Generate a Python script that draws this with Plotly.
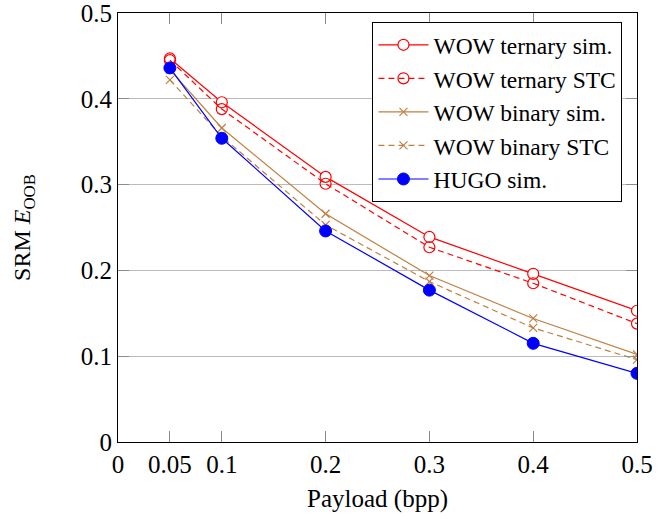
import plotly.graph_objects as go

payload = [0.05, 0.1, 0.2, 0.3, 0.4, 0.5]
wow_ternary_sim = [0.447, 0.396, 0.309, 0.239, 0.196, 0.153]
wow_ternary_stc = [0.445, 0.388, 0.301, 0.227, 0.185, 0.138]
wow_binary_sim = [0.434, 0.366, 0.266, 0.194, 0.144, 0.102]
wow_binary_stc = [0.422, 0.356, 0.253, 0.187, 0.133, 0.096]
hugo_sim = [0.436, 0.354, 0.246, 0.177, 0.115, 0.080]

x_ticks = [0, 0.05, 0.1, 0.2, 0.3, 0.4, 0.5]
x_ticklabels = ["0", "0.05", "0.1", "0.2", "0.3", "0.4", "0.5"]
y_ticks = [0, 0.1, 0.2, 0.3, 0.4, 0.5]
y_ticklabels = ["0", "0.1", "0.2", "0.3", "0.4", "0.5"]

RED = "#FF0000"
BROWN = "#BF8040"
BLUE = "#0000FF"
FONT = "Liberation Serif"

fig = go.Figure()
fig.add_trace(go.Scatter(x=payload, y=wow_ternary_sim, name="WOW ternary sim.", mode="lines+markers",
                         line=dict(color=RED, width=1.2),
                         marker=dict(symbol="circle", size=11, color="white", line=dict(color=RED, width=1.2))))
fig.add_trace(go.Scatter(x=payload, y=wow_ternary_stc, name="WOW ternary STC", mode="lines+markers",
                         line=dict(color=RED, width=1.2, dash="6px,4px"),
                         marker=dict(symbol="circle-open", size=11, color=RED, line=dict(width=1.2))))
fig.add_trace(go.Scatter(x=payload, y=wow_binary_sim, name="WOW binary sim.", mode="lines+markers",
                         line=dict(color=BROWN, width=1.2),
                         marker=dict(symbol="x-thin", size=8, color=BROWN, line=dict(color=BROWN, width=1.2))))
fig.add_trace(go.Scatter(x=payload, y=wow_binary_stc, name="WOW binary STC", mode="lines+markers",
                         line=dict(color=BROWN, width=1.2, dash="6px,4px"),
                         marker=dict(symbol="x-thin", size=8, color=BROWN, line=dict(color=BROWN, width=1.2))))
fig.add_trace(go.Scatter(x=payload, y=hugo_sim, name="HUGO sim.", mode="lines+markers",
                         line=dict(color=BLUE, width=1.2),
                         marker=dict(symbol="circle", size=12, color=BLUE, line=dict(color=BLUE, width=1))))

fig.update_layout(
    width=667, height=519,
    margin=dict(l=118, r=30, t=13, b=77, autoexpand=False),
    paper_bgcolor="white", plot_bgcolor="white",
    font=dict(family=FONT, size=24, color="black"),
    showlegend=True,
    legend=dict(x=0.972, y=0.979, xanchor="right", yanchor="top",
                bgcolor="white", bordercolor="black", borderwidth=1,
                font=dict(family=FONT, size=23.5), tracegroupgap=0, itemwidth=50),
    xaxis=dict(range=[0, 0.5], tickvals=x_ticks, ticktext=x_ticklabels, automargin=False,
               showgrid=False, zeroline=False, showline=True, linecolor="black", linewidth=1,
               mirror="ticks", ticks="inside", ticklen=11, tickcolor="#8C8C8C",
               ticklabeloverflow="allow",
               title=dict(text="Payload (bpp)", standoff=12, font=dict(family=FONT, size=25)),
               tickfont=dict(family=FONT, size=25)),
    yaxis=dict(range=[0, 0.5], tickvals=y_ticks, ticktext=y_ticklabels, automargin=False,
               showgrid=True, gridcolor="#BBBBBB", gridwidth=1, zeroline=False,
               showline=True, linecolor="black", linewidth=1, mirror="ticks",
               ticks="inside", ticklen=11, tickcolor="#8C8C8C",
               ticklabeloverflow="allow",
               title=dict(text="SRM <i>E</i><sub>OOB</sub>", standoff=43, font=dict(family=FONT, size=24)),
               tickfont=dict(family=FONT, size=25)),
)

fig.write_html("out.html", post_script="document.body.style.margin='0';",
               config={"displayModeBar": False})
